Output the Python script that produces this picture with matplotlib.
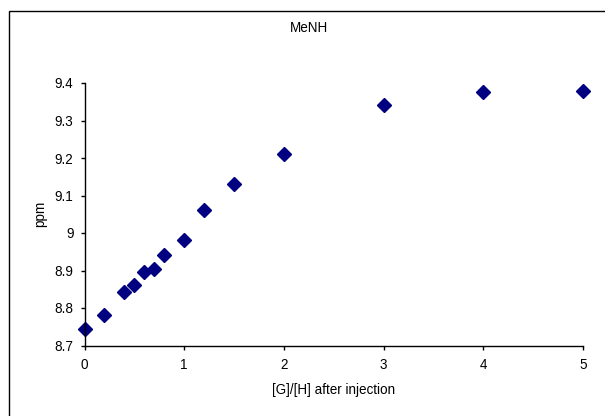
import matplotlib
matplotlib.use("Agg")
import matplotlib.pyplot as plt
from matplotlib.patches import Rectangle

# [G]/[H] ratio after each injection and the MeNH shift (ppm)
ratio = [0, 0.2, 0.4, 0.5, 0.6, 0.7, 0.8, 1.0, 1.2, 1.5, 2, 3, 4, 5]
shift = [8.744, 8.781, 8.842, 8.862, 8.897, 8.904, 8.942, 8.981, 9.061, 9.132,
         9.211, 9.342, 9.375, 9.380]

x_ticks = [0, 1, 2, 3, 4, 5]
y_ticks = [8.7, 8.8, 8.9, 9.0, 9.1, 9.2, 9.3, 9.4]
y_labels = ["8.7", "8.8", "8.9", "9", "9.1", "9.2", "9.3", "9.4"]

plt.rcParams['font.family'] = ['Liberation Sans', 'DejaVu Sans']
plt.rcParams['font.size'] = 9.75

fig = plt.figure(figsize=(6.05, 4.16), dpi=100)
ax = fig.add_axes([84.5 / 605, 1 - 345.5 / 416, 498.5 / 605, 262.5 / 416])

# chart-area border, running off the right and bottom edges
fig.patches.append(Rectangle((8.5 / 605, -0.2), 1.2, 1.2 - 10.5 / 416,
                             transform=fig.transFigure, fill=False,
                             edgecolor='black', linewidth=1.0))

ax.plot(ratio, shift, linestyle='none', marker='D', markersize=7.5,
        color='#000080', clip_on=False)

ax.set_xlim(0, 5)
ax.set_ylim(8.7, 9.4)
ax.set_xticks(x_ticks)
ax.set_yticks(y_ticks)
ax.set_yticklabels(y_labels)
ax.spines['top'].set_visible(False)
ax.spines['right'].set_visible(False)
for s in ('left', 'bottom'):
    ax.spines[s].set_linewidth(1.0)
ax.tick_params(axis='y', direction='out', length=3, width=1.0, pad=5)
ax.tick_params(axis='x', direction='out', length=3, width=1.0, pad=6)

ax.set_xlabel("[G]/[H] after injection", labelpad=8)
ax.set_ylabel("ppm", labelpad=5)
fig.text(309 / 605, 1 - 28 / 416, "MeNH", ha='center', va='center')

fig.savefig("out.png", dpi=100)
